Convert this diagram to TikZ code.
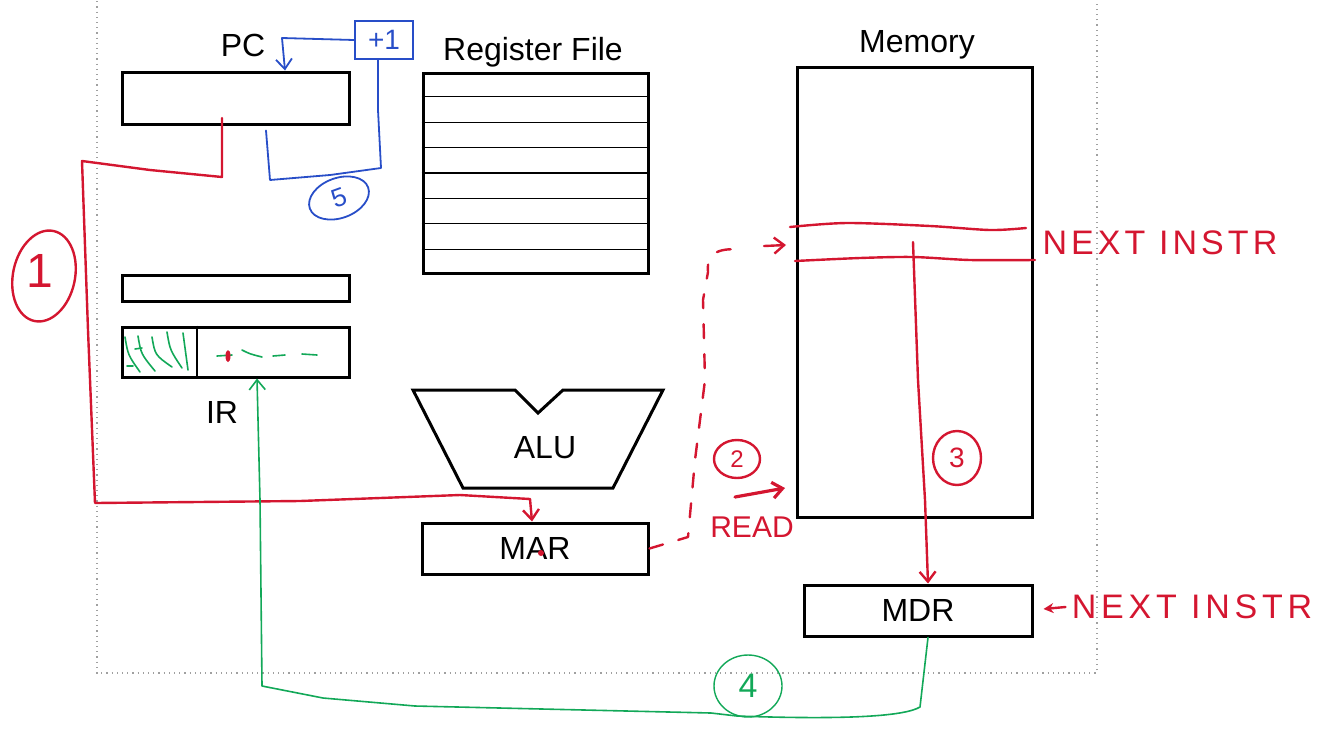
\documentclass[tikz,border=0pt]{standalone}
\usepackage{fontspec}
\setmainfont{Liberation Sans}
\usetikzlibrary{arrows.meta,shapes.geometric,calc}
\definecolor{inkred}{RGB}{212,22,48}
\definecolor{inkblue}{RGB}{40,78,200}
\definecolor{inkgreen}{RGB}{18,168,88}
\definecolor{framegray}{RGB}{160,160,160}
\tikzset{
  box/.style={draw=black, line width=1.5pt, inner sep=0pt},
  lbl/.style={font=\fontsize{16}{19}\selectfont, inner sep=0pt},
  redpen/.style={draw=inkred, line width=1.2pt, line cap=round, line join=round},
  bluepen/.style={draw=inkblue, line width=0.9pt, line cap=round, line join=round},
  greenpen/.style={draw=inkgreen, line width=0.8pt, line cap=round, line join=round},
  tip/.style={-{Straight Barb[length=5pt,width=8pt]}},
  ring/.style={ellipse, inner sep=0pt},
  hand/.style={inner sep=0pt, text=inkred}
}
\begin{document}
\begin{tikzpicture}[x=0.5pt,y=-0.5pt]
\useasboundingbox (0,0) rectangle (1332,740);

% slide frame
\draw[framegray, dotted, line width=0.6pt] (97,-4) -- (97,673) -- (1097,673) -- (1097,-4);

% datapath blocks
\node[box, minimum width=113.5pt, minimum height=26pt] (pc) at (235.5,98) {};
\node[lbl] (pclbl) at (243,45) {PC};
\node[box, minimum width=113.5pt, minimum height=13pt] (blank) at (235.5,288) {};
\node[box, minimum width=113.5pt, minimum height=25pt] (ir) at (235.5,352) {};
\node[lbl] (irlbl) at (222,412) {IR};

\node[box, minimum width=112.5pt, minimum height=100pt] (rf) at (535.5,173) {};
\node[lbl] (rflbl) at (533,52) {Register File};
\foreach \k in {1,...,7}
  \draw[line width=0.6pt] ($(rf.north west)!\k/8!(rf.south west)$) -- ($(rf.north east)!\k/8!(rf.south east)$);

\node[box, minimum width=117.5pt, minimum height=225pt] (mem) at (914.5,292) {};
\node[lbl] (memlbl) at (917,45) {Memory};

\draw[line width=1.5pt, line join=miter] (413,390) -- (515,390) -- (538,413) -- (563,390) -- (663,390) -- (613,488) -- (463,488) -- cycle;
\node[lbl] (alu) at (545,448) {ALU};

\node[box, minimum width=113pt, minimum height=25.5pt] (mar) at (535,548.5) {};
\node[lbl] at (mar.center) {MAR};
\node[box, minimum width=114pt, minimum height=25.5pt] (mdr) at (918,610.5) {};
\node[lbl] at (mdr.center) {MDR};

% IR fields: opcode hatching and operand dashes
\path (197,0) coordinate (irdiv);
\draw[line width=0.6pt] (irdiv |- ir.north) -- (irdiv |- ir.south);
\foreach \a/\b/\c/\d in {125/337/140/372, 138/336/155/371, 152/337/172/367, 167/332/182/368, 183/333/188/370}
  \draw[greenpen] (\a,\b) .. controls (\a+3,\b+18) .. (\c,\d);
\draw[greenpen] (127,366) -- (133,366);
\draw[greenpen] (135,349) -- (142,348);
\draw[greenpen] (217,356) -- (232,355);
\draw[greenpen] (242,350) .. controls (250,354) .. (262,357);
\draw[greenpen] (273,356) -- (285,355);
\draw[greenpen] (302,354) -- (317,355);
\fill[inkred] (228,356) ellipse (2.5 and 6);

% step 1: PC to MAR
\path (532,0) coordinate (marin);
\draw[redpen, tip] (222,118) -- (222,177) -- (150,170) -- (82,161) -- (88,330) -- (95,503)
  -- (300,501) -- (460,495) -- (530,499) -- (marin |- mar.north);
\fill[inkred] (541,553) circle (3);
\node[ring, draw=inkred, line width=1.2pt, minimum width=31pt, minimum height=46pt, rotate=-12] (n1) at (44,276) {};
\node[hand, font=\fontsize{24}{26}\selectfont] at (40,271) {1};

% step 2: MAR to memory, read
\draw[redpen, dash pattern=on 7pt off 8pt] (mar.east) -- (688,537) -- (695,460) -- (705,380)
  -- (703,300) -- (708,272) .. controls (706,252) and (720,247) .. (745,250);
\draw[redpen, tip] (764,246) -- (786,245);
\node[ring, draw=inkred, line width=1.2pt, minimum width=23pt, minimum height=19pt, text=inkred, font=\fontsize{12}{14}\selectfont] (n2) at (737,459) {2};
\draw[redpen, tip, line width=1.6pt] (735,497) -- (785,488);
\node[hand, font=\fontsize{15}{17}\selectfont] (read) at (752,527) {READ};

% addressed memory word
\draw[redpen] plot[smooth] coordinates {(790,227) (847,223) (930,226) (990,230) (1026,228)};
\draw[redpen] plot[smooth] coordinates {(795,261) (860,258) (913,257) (970,260) (1035,260)};
\node[hand, font=\fontsize{17}{19}\selectfont\addfontfeature{LetterSpace=12}] (nxt1) at (1160,243) {NEXT INSTR};

% step 3: memory word to MDR
\path (928,0) coordinate (mdrin);
\draw[redpen, tip] (913,242) -- (918,380) -- (925,500) -- (mdrin |- mdr.north);
\node[ring, draw=inkred, line width=1.2pt, minimum width=24pt, minimum height=27pt, text=inkred, font=\fontsize{14}{16}\selectfont] (n3) at (957,458) {3};
\node[hand, font=\fontsize{17}{19}\selectfont\addfontfeature{LetterSpace=14}] (nxt2) at (1192,607) {NEXT INSTR};
\draw[redpen, -{Stealth[length=5pt,width=5pt]}] ([xshift=-3pt]nxt2.west) -- ++(-22,2);

% step 4: MDR to IR
\path (257,0) coordinate (irin);
\draw[greenpen, tip] (mdrin |- mdr.south) -- (920,707) .. controls (905,716) and (850,720) .. (737,716)
  -- (711,713) -- (415,706) -- (323,698) -- (262,686) -- (260,500) -- (irin |- ir.south);
\node[ring, draw=inkgreen, line width=0.7pt, minimum width=34pt, minimum height=31pt, text=inkgreen, font=\fontsize{17}{19}\selectfont] (n4) at (748,686) {4};

% step 5: PC increment
\node[draw=inkblue, line width=0.9pt, minimum width=29pt, minimum height=19pt, inner sep=0pt, text=inkblue, font=\fontsize{14}{16}\selectfont] (inc) at (384,40) {+1};
\path (266,0) coordinate (pcout) (378,0) coordinate (incin) (285,0) coordinate (pcin);
\draw[bluepen] (pcout |- pc.south) ++(0,5) -- (270,180) -- (330,175) -- (381,168) -- (378,110) -- (incin |- inc.south);
\draw[bluepen, tip] (inc.west) -- (282,38) -- (pcin |- pc.north);
\node[ring, draw=inkblue, line width=0.9pt, minimum width=31pt, minimum height=20pt, rotate=20, text=inkblue, font=\fontsize{13}{15}\selectfont] (n5) at (339,198) {5};
\end{tikzpicture}
\end{document}
